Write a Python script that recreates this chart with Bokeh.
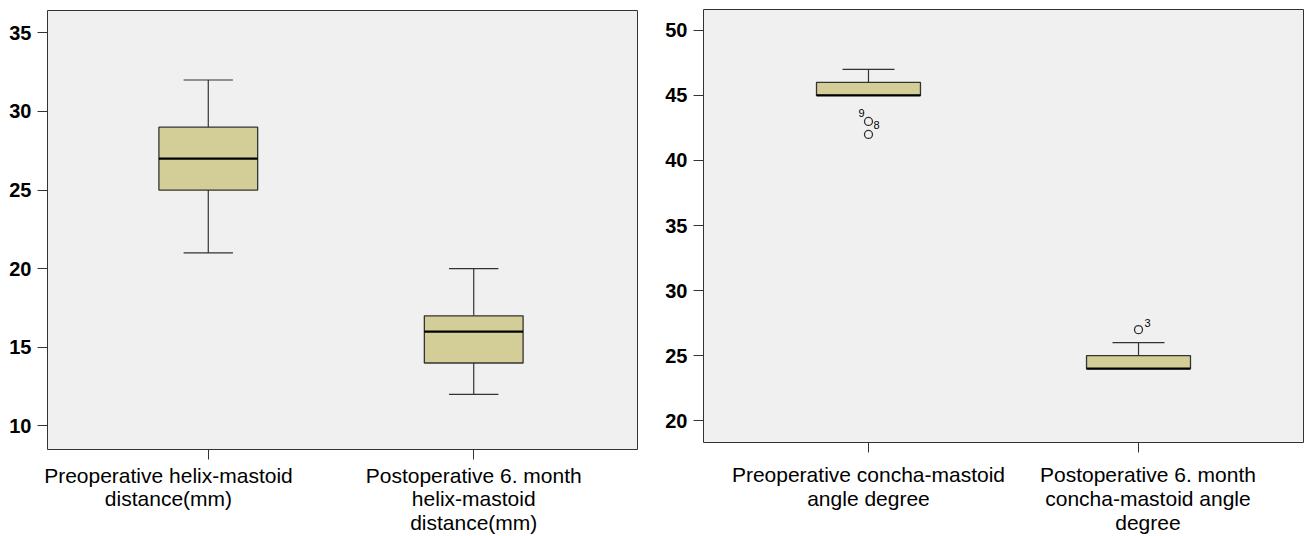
from bokeh.plotting import figure
from bokeh.layouts import row, column
from bokeh.models import (Range1d, FixedTicker, ColumnDataSource, LinearAxis,
                          CustomLabelingPolicy)
from bokeh.embed import file_html
from bokeh.resources import INLINE

# ---- data (left panel: helix-mastoid distance, mm) ----
left_labels = ["Preoperative helix-mastoid\ndistance(mm)",
               "Postoperative 6. month\nhelix-mastoid\ndistance(mm)"]
left_lo = [21, 12]
left_q1 = [25, 14]
left_med = [27, 16]
left_q3 = [29, 17]
left_hi = [32, 20]
left_yticks = [10, 15, 20, 25, 30, 35]

# ---- data (right panel: concha-mastoid angle, degree) ----
right_labels = ["Preoperative concha-mastoid\nangle degree",
                "Postoperative 6. month\nconcha-mastoid angle\ndegree"]
right_lo = [45, 24]
right_q1 = [45, 24]
right_med = [45, 24]
right_q3 = [46, 25]
right_hi = [47, 26]
right_yticks = [20, 25, 30, 35, 40, 45, 50]
out_group = [1, 1, 2]
out_value = [43, 42, 27]
out_text_group = [1, 1, 2]
out_text_value = [43, 43, 27]
out_text = ["9", "8", "3"]

FONT = "Liberation Sans"
BOX_FILL = "#d3ce97"
EDGE = "#333333"
BG = "#f0f0f0"


def make_panel(width, height, mbl, mbr, mbt, mbb, xr, yr, yticks, labels,
               label_pos, lo, q1, med, q3, hi, bw, standoff, lh):
    p = figure(width=width, height=height, output_backend="svg",
               toolbar_location=None, x_range=Range1d(*xr),
               y_range=Range1d(*yr), min_border_left=mbl,
               min_border_right=mbr, min_border_top=mbt,
               min_border_bottom=mbb)
    p.background_fill_color = BG
    p.border_fill_color = "white"
    p.outline_line_color = EDGE
    p.outline_line_width = 1
    p.xgrid.visible = False
    p.ygrid.visible = False

    xs = list(range(1, len(labels) + 1))
    # whiskers
    wx, wy0, wy1 = [], [], []
    cx0, cx1, cy = [], [], []
    for x, a, b, c, d in zip(xs, lo, q1, q3, hi):
        if d > c:
            wx.append(x); wy0.append(c); wy1.append(d)
            cx0.append(x - bw / 4); cx1.append(x + bw / 4); cy.append(d)
        if a < b:
            wx.append(x); wy0.append(a); wy1.append(b)
            cx0.append(x - bw / 4); cx1.append(x + bw / 4); cy.append(a)
    p.segment(x0=wx, y0=wy0, x1=wx, y1=wy1, line_color=EDGE, line_width=1.2)
    p.segment(x0=cx0, y0=cy, x1=cx1, y1=cy, line_color=EDGE, line_width=1.2)
    src = ColumnDataSource(dict(
        left=[x - bw / 2 for x in xs], right=[x + bw / 2 for x in xs],
        bottom=q1, top=q3, med=med))
    p.quad(left="left", right="right", bottom="bottom", top="top",
           source=src, fill_color=BOX_FILL, line_color=EDGE, line_width=1.3)
    p.segment(x0="left", y0="med", x1="right", y1="med", source=src,
              line_color="black", line_width=2.2)

    # axes
    for ax in (p.xaxis, p.yaxis):
        ax.axis_line_color = None
        ax.major_tick_in = 0
        ax.major_tick_out = 10
        ax.major_tick_line_color = EDGE
        ax.minor_tick_line_color = None
        ax.major_label_text_font = FONT
        ax.major_label_text_color = "black"
    p.yaxis.ticker = FixedTicker(ticks=yticks)
    p.yaxis.major_label_text_font_size = "20px"
    p.yaxis.major_label_text_font_style = "bold"
    p.yaxis.major_label_standoff = 6
    # tick marks only (labels suppressed)
    p.xaxis.ticker = FixedTicker(ticks=xs)
    p.xaxis.major_label_text_font_size = "1px"
    p.xaxis.major_label_standoff = 0
    p.xaxis.major_label_policy = CustomLabelingPolicy(
        code="for (const i of indices) indices.unset(i)")
    # category labels
    lab_axis = LinearAxis(ticker=FixedTicker(ticks=label_pos),
                          major_label_overrides={
                              pos: l for pos, l in zip(label_pos, labels)},
                          axis_line_color=None, major_tick_line_color=None,
                          minor_tick_line_color=None, major_tick_out=0,
                          major_tick_in=0, major_label_standoff=standoff,
                          major_label_text_font=FONT,
                          major_label_text_font_size="21px",
                          major_label_text_line_height=lh,
                          major_label_text_color="black")
    p.add_layout(lab_axis, "below")
    return p


p1 = make_panel(650, 536, 47, 13, 10, 86, (0.3943, 2.617), (8.5, 36.42),
                left_yticks, left_labels, [0.85, 2.0], left_lo, left_q1,
                left_med, left_q3, left_hi, 0.372, 0, 1.03)

p2 = make_panel(658, 536, 53, 5, 9, 94, (0.389, 2.611), (18.33, 51.6),
                right_yticks, right_labels, [1.0, 2.035], right_lo, right_q1,
                right_med, right_q3, right_hi, 0.385, 6, 1.05)
p2.scatter(x=out_group, y=out_value, marker="circle", size=8,
           fill_color=None, line_color=EDGE, line_width=1.3)
tsrc = ColumnDataSource(dict(x=out_text_group, y=out_text_value, t=out_text,
                             dx=[-7, 8, 9], dy=[-8, 4, -7]))
p2.text(x="x", y="y", text="t", source=tsrc, x_offset="dx", y_offset="dy",
        text_align="center", text_baseline="middle", text_font_size="11px",
        text_color="black")

layout = row(column(p1), column(p2))
open("out.html", "w").write(file_html(layout, INLINE))
